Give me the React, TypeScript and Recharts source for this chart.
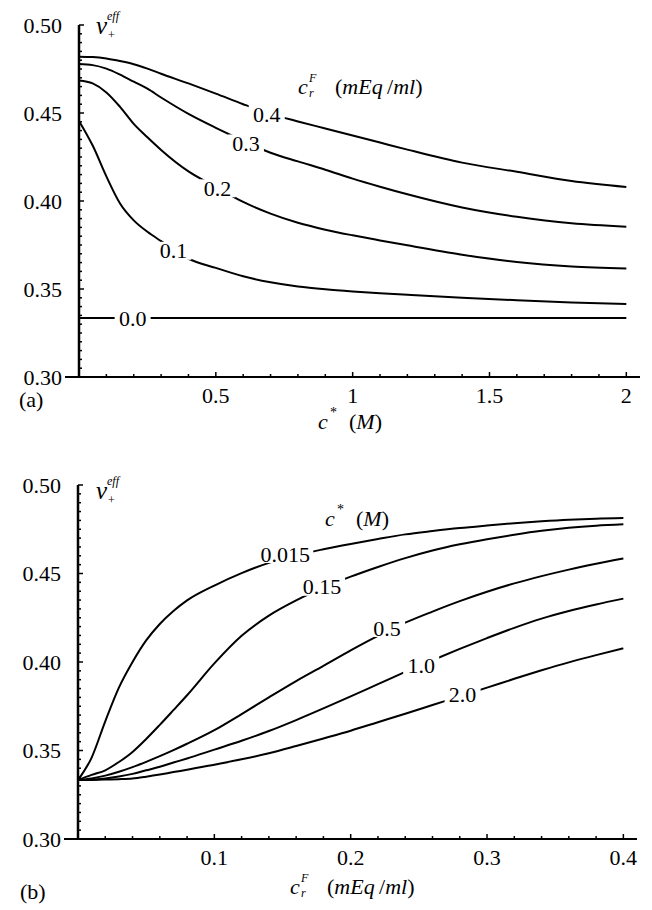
import React from 'react'
import { LineChart, Line, XAxis, YAxis, ReferenceDot } from 'recharts'

// (a) v+eff against c* for several c_r^F
const topC = [0, 0.05, 0.1, 0.15, 0.2, 0.25, 0.3, 0.4, 0.5, 0.6, 0.7, 0.8, 0.9, 1.0, 1.1, 1.2, 1.4, 1.6, 1.8, 2.0]
const topCr04 = [0.482, 0.4818, 0.481, 0.4795, 0.4777, 0.4752, 0.4723, 0.4668, 0.461, 0.455, 0.4495, 0.4452, 0.4412, 0.4372, 0.4332, 0.4292, 0.4218, 0.4166, 0.4114, 0.408]
const topCr03 = [0.4778, 0.4772, 0.4752, 0.4718, 0.4678, 0.4638, 0.4588, 0.4495, 0.4416, 0.4343, 0.4274, 0.4225, 0.4178, 0.4127, 0.4081, 0.4038, 0.3963, 0.391, 0.3873, 0.3854]
const topCr02 = [0.4685, 0.4668, 0.4617, 0.4535, 0.4438, 0.4362, 0.429, 0.4168, 0.408, 0.3995, 0.3928, 0.3876, 0.3837, 0.3805, 0.3776, 0.3748, 0.3695, 0.3653, 0.3628, 0.3617]
const topCr01 = [0.4455, 0.4315, 0.414, 0.3986, 0.389, 0.3825, 0.3772, 0.3672, 0.362, 0.3572, 0.3538, 0.3514, 0.3498, 0.3486, 0.3476, 0.3467, 0.345, 0.3436, 0.3424, 0.3415]
const topCr00 = [0.3335, 0.3335, 0.3335, 0.3335, 0.3335, 0.3335, 0.3335, 0.3335, 0.3335, 0.3335, 0.3335, 0.3335, 0.3335, 0.3335, 0.3335, 0.3335, 0.3335, 0.3335, 0.3335, 0.3335]
const topLabelText = ['0.4', '0.3', '0.2', '0.1', '0.0']
const topLabelX = [0.686, 0.61, 0.506, 0.345, 0.196]
const topLabelY = [0.4494, 0.4327, 0.4072, 0.3717, 0.3335]
const topXMajor = [0.5, 1, 1.5, 2]
const topXLabels = ['0.5', '1', '1.5', '2']

// (b) v+eff against c_r^F for several c*
const botCr = [0, 0.01, 0.02, 0.03, 0.04, 0.05, 0.06, 0.07, 0.08, 0.1, 0.12, 0.14, 0.16, 0.18, 0.2, 0.22, 0.24, 0.26, 0.28, 0.3, 0.32, 0.34, 0.36, 0.38, 0.4]
const botC0015 = [0.3333, 0.346, 0.3665, 0.3855, 0.4, 0.4122, 0.4215, 0.4288, 0.4348, 0.4432, 0.4502, 0.456, 0.4603, 0.4637, 0.4667, 0.4695, 0.4721, 0.474, 0.4757, 0.4771, 0.4784, 0.4795, 0.4804, 0.481, 0.4813]
const botC015 = [0.3333, 0.3362, 0.3388, 0.3435, 0.3492, 0.3565, 0.3645, 0.3728, 0.3812, 0.3992, 0.4148, 0.4262, 0.4348, 0.442, 0.4482, 0.4537, 0.4587, 0.463, 0.4665, 0.4694, 0.4719, 0.4741, 0.4758, 0.477, 0.4778]
const botC05 = [0.3333, 0.3342, 0.3358, 0.338, 0.3406, 0.3436, 0.3468, 0.3502, 0.3538, 0.3615, 0.3706, 0.38, 0.3892, 0.3978, 0.4066, 0.4148, 0.4222, 0.4285, 0.4344, 0.4397, 0.4444, 0.4485, 0.4522, 0.4555, 0.4585]
const botC10 = [0.3333, 0.3335, 0.3342, 0.3353, 0.3368, 0.3388, 0.3408, 0.3432, 0.3455, 0.3505, 0.3555, 0.361, 0.3672, 0.3738, 0.3806, 0.3875, 0.3944, 0.401, 0.4074, 0.4135, 0.4193, 0.4245, 0.4288, 0.4325, 0.4358]
const botC20 = [0.3333, 0.3334, 0.3336, 0.3338, 0.3342, 0.3352, 0.3364, 0.3378, 0.3391, 0.342, 0.345, 0.3484, 0.3525, 0.3568, 0.3612, 0.366, 0.3708, 0.3757, 0.3806, 0.3855, 0.3905, 0.3953, 0.3998, 0.4039, 0.4077]
const botLabelText = ['0.015', '0.15', '0.5', '1.0', '2.0']
const botLabelX = [0.152, 0.179, 0.2267, 0.2517, 0.2821]
const botLabelY = [0.461, 0.4425, 0.4192, 0.3983, 0.3814]
const botXMajor = [0.1, 0.2, 0.3, 0.4]
const botXLabels = ['0.1', '0.2', '0.3', '0.4']

const yMajor = [0.3, 0.35, 0.4, 0.45, 0.5]
const yLabels = ['0.30', '0.35', '0.40', '0.45', '0.50']

const topData = topC.map((c, i) => ({
  c,
  cr04: topCr04[i],
  cr03: topCr03[i],
  cr02: topCr02[i],
  cr01: topCr01[i],
  cr00: topCr00[i],
}))
const botData = botCr.map((cr, i) => ({
  cr,
  c0015: botC0015[i],
  c015: botC015[i],
  c05: botC05[i],
  c10: botC10[i],
  c20: botC20[i],
}))

const steps = (from: number, to: number, step: number) => {
  const out: number[] = []
  for (let v = from; v <= to + 1e-9; v += step) out.push(Number(v.toFixed(4)))
  return out
}
const yTicks = steps(0.3, 0.5, 0.005)
const topXTicks = steps(0.1, 2.0, 0.1)
const botXTicks = steps(0.02, 0.4, 0.02)

const FONT = "'Liberation Serif', 'Times New Roman', 'DejaVu Serif', serif"
const FS = 22

const findIdx = (list: number[], v: number) => list.findIndex((m) => Math.abs(m - v) < 1e-6)

const makeXTick = (major: number[], labels: string[]) => (props: any) => {
  const { x, y, payload } = props
  const idx = findIdx(major, payload.value)
  return (
    <g>
      <line x1={x} x2={x} y1={y} y2={y - (idx >= 0 ? 5 : 3)} stroke="#000" strokeWidth={1.5} />
      {idx >= 0 && (
        <text x={x} y={y + 18} textAnchor="middle" dominantBaseline="central" fontSize={FS} fontFamily={FONT} fill="#000">
          {labels[idx]}
        </text>
      )}
    </g>
  )
}

const YTick = (props: any) => {
  const { x, y, payload } = props
  const idx = findIdx(yMajor, payload.value)
  return (
    <g>
      <line x1={x} x2={x + (idx >= 0 ? 5 : 3)} y1={y} y2={y} stroke="#000" strokeWidth={1.5} />
      {idx === 0 && <line x1={x - 14} x2={x} y1={y} y2={y} stroke="#000" strokeWidth={2} />}
      {idx >= 0 && (
        <text x={x - 17} y={y} textAnchor="end" dominantBaseline="central" fontSize={FS} fontFamily={FONT} fill="#000">
          {yLabels[idx]}
        </text>
      )}
    </g>
  )
}

const curveLabel = (text: string) => (p: any) => {
  const w = text.length * 10 + 6
  return (
    <g>
      <rect x={p.cx - w / 2} y={p.cy - 9} width={w} height={18} fill="#fff" />
      <text x={p.cx} y={p.cy} textAnchor="middle" dominantBaseline="central" fontSize={FS} fontFamily={FONT} fill="#000">
        {text}
      </text>
    </g>
  )
}

const lineProps = {
  type: 'monotone' as const,
  stroke: '#000',
  strokeWidth: 2,
  dot: false,
  activeDot: false,
  isAnimationActive: false,
}

const Nu = ({ x, y }: { x: number; y: number }) => (
  <g fontFamily={FONT} fill="#000">
    <text x={x} y={y} fontSize={25} fontStyle="italic" dominantBaseline="central">ν</text>
    <text x={x + 11} y={y - 9} fontSize={12} fontStyle="italic" dominantBaseline="central">eff</text>
    <text x={x + 12} y={y + 10} fontSize={12} dominantBaseline="central">+</text>
  </g>
)

const CrF = ({ x, y }: { x: number; y: number }) => (
  <g fontFamily={FONT} fill="#000">
    <text x={x} y={y} fontSize={FS} fontStyle="italic" dominantBaseline="central">c</text>
    <text x={x + 11} y={y - 8} fontSize={12} fontStyle="italic" dominantBaseline="central">F</text>
    <text x={x + 11} y={y + 7} fontSize={12} fontStyle="italic" dominantBaseline="central">r</text>
    <text x={x + 37} y={y} fontSize={FS} dominantBaseline="central">
      (<tspan fontStyle="italic">mEq</tspan>{'\u2009/'}<tspan fontStyle="italic">ml</tspan>)
    </text>
  </g>
)

const CStar = ({ x, y }: { x: number; y: number }) => (
  <g fontFamily={FONT} fill="#000">
    <text x={x} y={y} fontSize={FS} fontStyle="italic" dominantBaseline="central">c</text>
    <text x={x + 12} y={y - 9} fontSize={14} dominantBaseline="central">*</text>
    <text x={x + 31} y={y} fontSize={FS} dominantBaseline="central">
      (<tspan fontStyle="italic">M</tspan>)
    </text>
  </g>
)

export default function App() {
  return (
    <div style={{ position: 'absolute', left: 0, top: 0, width: 652, height: 910, background: '#fff' }}>
      <div style={{ position: 'absolute', left: 0, top: 0 }}>
        <LineChart width={652} height={455} data={topData} margin={{ top: 25, right: 12, bottom: 48, left: 19 }}>
          <XAxis
            dataKey="c"
            type="number"
            domain={[0, 2.05]}
            ticks={topXTicks}
            interval={0}
            tickSize={0}
            tickMargin={0}
            tickLine={false}
            axisLine={{ stroke: '#000', strokeWidth: 2 }}
            tick={makeXTick(topXMajor, topXLabels)}
          />
          <YAxis
            type="number"
            domain={[0.3, 0.5]}
            ticks={yTicks}
            interval={0}
            width={60}
            tickSize={0}
            tickMargin={0}
            tickLine={false}
            axisLine={{ stroke: '#000', strokeWidth: 2.5 }}
            tick={YTick}
          />
          <Line dataKey="cr04" {...lineProps} />
          <Line dataKey="cr03" {...lineProps} />
          <Line dataKey="cr02" {...lineProps} />
          <Line dataKey="cr01" {...lineProps} />
          <Line dataKey="cr00" {...lineProps} />
          {topLabelText.map((t, i) => (
            <ReferenceDot key={t} x={topLabelX[i]} y={topLabelY[i]} r={0} ifOverflow="visible" shape={curveLabel(t)} />
          ))}
        </LineChart>
      </div>
      <div style={{ position: 'absolute', left: 0, top: 460 }}>
        <LineChart width={652} height={450} data={botData} margin={{ top: 25, right: 15, bottom: 41, left: 18 }}>
          <XAxis
            dataKey="cr"
            type="number"
            domain={[0, 0.41]}
            ticks={botXTicks}
            interval={0}
            tickSize={0}
            tickMargin={0}
            tickLine={false}
            axisLine={{ stroke: '#000', strokeWidth: 2 }}
            tick={makeXTick(botXMajor, botXLabels)}
          />
          <YAxis
            type="number"
            domain={[0.3, 0.5]}
            ticks={yTicks}
            interval={0}
            width={60}
            tickSize={0}
            tickMargin={0}
            tickLine={false}
            axisLine={{ stroke: '#000', strokeWidth: 2.5 }}
            tick={YTick}
          />
          <Line dataKey="c0015" {...lineProps} />
          <Line dataKey="c015" {...lineProps} />
          <Line dataKey="c05" {...lineProps} />
          <Line dataKey="c10" {...lineProps} />
          <Line dataKey="c20" {...lineProps} />
          {botLabelText.map((t, i) => (
            <ReferenceDot key={t} x={botLabelX[i]} y={botLabelY[i]} r={0} ifOverflow="visible" shape={curveLabel(t)} />
          ))}
        </LineChart>
      </div>
      <svg width={652} height={910} style={{ position: 'absolute', left: 0, top: 0, pointerEvents: 'none' }}>
        <Nu x={96} y={25} />
        <CrF x={298} y={86} />
        <CStar x={318} y={421} />
        <text x={19} y={399} fontSize={FS} fontFamily={FONT} dominantBaseline="central">(a)</text>
        <Nu x={96} y={490} />
        <CStar x={325} y={518} />
        <CrF x={290} y={886} />
        <text x={20} y={891} fontSize={FS} fontFamily={FONT} dominantBaseline="central">(b)</text>
      </svg>
    </div>
  )
}
